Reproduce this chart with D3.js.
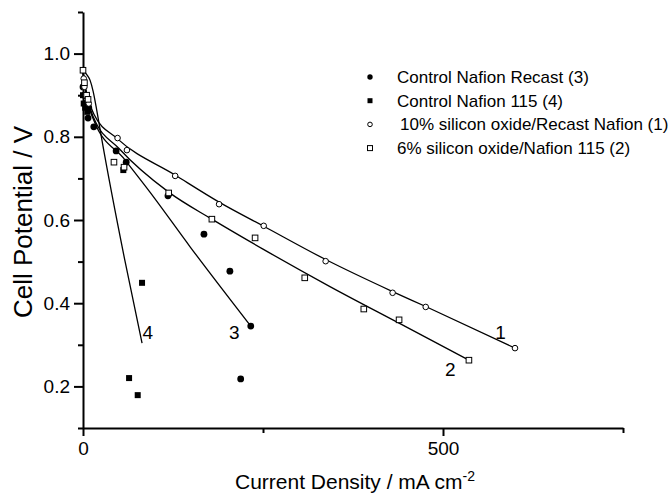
<!DOCTYPE html>
<html>
<head>
<meta charset="utf-8">
<script src="https://cdn.jsdelivr.net/npm/d3@7"></script>
<style>
  body { margin: 0; background: #fff; }
  svg { font-family: "Liberation Sans", Arial, sans-serif; }
  .axis path, .axis line { stroke: #000; stroke-width: 2; }
  .axis text { font-size: 19px; fill: #000; }
  .fit { fill: none; stroke: #000; stroke-width: 1.3; }
</style>
</head>
<body>
<script>
// axis ticks
var xMajor = [0, 500];
var xMinor = [250, 750];
var yMajor = [0.2, 0.4, 0.6, 0.8, 1.0];
var yMinor = [0.1, 0.3, 0.5, 0.7, 0.9, 1.1];

// measured points (current density mA/cm2, cell potential V)
var recastX = [0, 2, 4, 7, 8, 15, 46, 60, 118, 168, 204, 233, 219];
var recastY = [0.92, 0.90, 0.88, 0.845, 0.87, 0.824, 0.766, 0.739, 0.658, 0.566, 0.477, 0.345, 0.218];
var n115X = [0, 1, 3, 6, 56, 82, 64, 76];
var n115Y = [0.90, 0.88, 0.87, 0.86, 0.72, 0.449, 0.22, 0.179];
var si10X = [1, 2, 4, 8, 48, 61, 128, 189, 251, 337, 430, 476, 600];
var si10Y = [0.94, 0.92, 0.90, 0.88, 0.797, 0.768, 0.706, 0.638, 0.586, 0.501, 0.425, 0.391, 0.292];
var si6X = [0, 2, 5, 7, 43, 57, 119, 179, 239, 308, 390, 439, 536];
var si6Y = [0.96, 0.93, 0.90, 0.89, 0.739, 0.727, 0.665, 0.602, 0.557, 0.461, 0.386, 0.36, 0.263];

// fitted curves
var fit1X = [0, 5, 15, 48, 128, 189, 251, 337, 430, 476, 600];
var fit1Y = [0.955, 0.905, 0.855, 0.795, 0.708, 0.643, 0.585, 0.505, 0.428, 0.392, 0.292];
var fit2X = [0, 5, 15, 50, 119, 179, 250, 343, 439, 536];
var fit2Y = [0.955, 0.90, 0.845, 0.772, 0.667, 0.602, 0.53, 0.44, 0.352, 0.263];
var fit3X = [0, 5, 15, 58, 93, 149, 233];
var fit3Y = [0.955, 0.895, 0.84, 0.745, 0.667, 0.535, 0.345];
var fit4X = [0, 5, 10, 14, 19, 26, 58, 82];
var fit4Y = [0.96, 0.95, 0.935, 0.91, 0.865, 0.795, 0.504, 0.304];

var fitLabels = ["1", "2", "3", "4"];
var fitLabelX = [580, 510, 210, 90];
var fitLabelY = [0.33, 0.24, 0.33, 0.33];

var legendNames = ["Control Nafion Recast (3)", "Control Nafion 115 (4)",
                   "10% silicon oxide/Recast Nafion (1)", "6% silicon oxide/Nafion 115 (2)"];

var width = 672, height = 496;
var margin = {top: 12, left: 83, right: 49, bottom: 68};
var w = width - margin.left - margin.right;
var h = height - margin.top - margin.bottom;

var x = d3.scaleLinear().domain([0, 750]).range([0, w]);
var y = d3.scaleLinear().domain([0.1, 1.1]).range([h, 0]);

var svg = d3.select("body").append("svg")
    .attr("width", width).attr("height", height);
var g = svg.append("g")
    .attr("transform", "translate(" + margin.left + "," + margin.top + ")");

// axes
g.append("g").attr("class", "axis")
    .attr("transform", "translate(0," + h + ")")
    .call(d3.axisBottom(x).tickValues(xMajor).tickSize(8).tickSizeOuter(0).tickPadding(6));
g.append("g").attr("class", "axis")
    .attr("transform", "translate(0," + h + ")")
    .call(d3.axisBottom(x).tickValues(xMinor).tickSize(5).tickSizeOuter(0).tickFormat(""))
    .select(".domain").remove();
g.append("g").attr("class", "axis")
    .call(d3.axisLeft(y).tickValues(yMajor).tickSize(9).tickSizeOuter(0).tickPadding(4)
      .tickFormat(d3.format(".1f")));
g.append("g").attr("class", "axis")
    .call(d3.axisLeft(y).tickValues(yMinor).tickSize(5).tickSizeOuter(0).tickFormat(""))
    .select(".domain").remove();

// axis titles
var xt = svg.append("text")
    .attr("x", margin.left + 272).attr("y", 489)
    .attr("text-anchor", "middle")
    .style("font-size", "21px");
xt.append("tspan").text("Current Density / mA cm");
xt.append("tspan").attr("dy", -8).style("font-size", "14px").text("-2");

svg.append("text")
    .attr("transform", "translate(32," + 222 + ") rotate(-90)")
    .attr("text-anchor", "middle")
    .style("font-size", "26px")
    .text("Cell Potential / V");

// fitted lines
var line = d3.line().x(d => x(d[0])).y(d => y(d[1])).curve(d3.curveMonotoneX);
[[fit1X, fit1Y], [fit2X, fit2Y], [fit3X, fit3Y], [fit4X, fit4Y]].forEach(function (f) {
  g.append("path").attr("class", "fit")
    .attr("d", line(d3.zip(f[0], f[1])));
});

g.selectAll(".flab").data(fitLabels).enter().append("text")
    .attr("x", (d, i) => x(fitLabelX[i]))
    .attr("y", (d, i) => y(fitLabelY[i]))
    .attr("text-anchor", "middle")
    .attr("dy", "0.35em")
    .style("font-size", "19px")
    .text(d => d);

// markers
function drawMarker(sel, type, s) {
  if (type === "circle" || type === "ocircle") {
    sel.append("circle").attr("r", s)
      .attr("fill", type === "circle" ? "#000" : "#fff")
      .attr("stroke", "#000").attr("stroke-width", type === "circle" ? 0 : 1);
  } else {
    sel.append("rect").attr("x", -s).attr("y", -s).attr("width", 2 * s).attr("height", 2 * s)
      .attr("fill", type === "square" ? "#000" : "#fff")
      .attr("stroke", "#000").attr("stroke-width", type === "square" ? 0 : 1);
  }
}

var series = [
  {xs: recastX, ys: recastY, type: "circle", s: 3.4},
  {xs: n115X, ys: n115Y, type: "square", s: 3},
  {xs: si10X, ys: si10Y, type: "ocircle", s: 2.8},
  {xs: si6X, ys: si6Y, type: "osquare", s: 2.8}
];
series.forEach(function (sr) {
  d3.zip(sr.xs, sr.ys).forEach(function (p) {
    var m = g.append("g").attr("transform", "translate(" + x(p[0]) + "," + y(p[1]) + ")");
    drawMarker(m, sr.type, sr.s);
  });
});

// legend
var legendS = [2.7, 2.5, 2.3, 2.5];
var lg = svg.append("g").attr("transform", "translate(370,77)");
legendNames.forEach(function (name, i) {
  var row = lg.append("g").attr("transform", "translate(0," + (i * 23.7) + ")");
  drawMarker(row, series[i].type, legendS[i]);
  row.append("text").attr("x", i === 2 ? 30 : 27).attr("dy", "0.35em")
    .style("font-size", "17px").text(name);
});
</script>
</body>
</html>
